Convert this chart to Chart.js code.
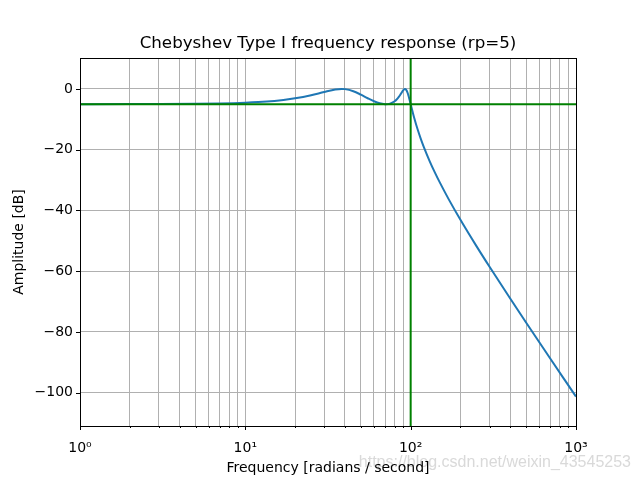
<!DOCTYPE html>
<html>
<head>
<meta charset="utf-8">
<script src="https://cdn.jsdelivr.net/npm/chart.js@4.4.1/dist/chart.umd.min.js"></script>
<style>
  html, body { margin: 0; padding: 0; background: #ffffff; }
  #wrap { width: 640px; height: 480px; position: relative; }
</style>
</head>
<body>
<div id="wrap"><canvas id="c" width="640" height="480"></canvas></div>
<script>
// Frequency (rad/s) and amplitude (dB)
const freqs = [1, 2, 3, 5, 7, 10, 12, 15, 17, 20, 25, 30, 35, 38.27, 40, 45, 50, 55, 60, 65, 70, 70.71, 75, 80, 82, 85, 86.5, 88, 90, 91, 92.39, 93, 94, 95, 96, 97, 98, 99, 100, 101, 102, 103, 105, 110, 115, 120, 130, 140, 150, 170, 200, 250, 300, 400, 500, 700, 850, 1000];
const amplitudeDb = [-4.995, -4.981, -4.957, -4.881, -4.767, -4.523, -4.312, -3.924, -3.618, -3.092, -2.069, -0.994, -0.180, 0, -0.053, -0.735, -1.877, -3.061, -4.044, -4.712, -4.995, -5, -4.813, -4.044, -3.534, -2.525, -1.920, -1.277, -0.475, -0.177, 0, -0.040, -0.285, -0.754, -1.415, -2.218, -3.111, -4.049, -5, -5.944, -6.867, -7.764, -9.464, -13.199, -16.344, -19.065, -23.649, -27.468, -30.774, -36.356, -43.085, -51.765, -58.573, -69.020, -76.976, -88.840, -95.644, -101.324];

// Reference lines
const cutoffFreq = [100];
const rippleDb = [-5];

// Axis ticks
const xTickValues = [1, 2, 3, 4, 5, 6, 7, 8, 9, 10, 20, 30, 40, 50, 60, 70, 80, 90, 100, 200, 300, 400, 500, 600, 700, 800, 900, 1000];
const xTickLabels = { 1: '10\u2070', 10: '10\u00b9', 100: '10\u00b2', 1000: '10\u00b3' };
const yTickValues = [-100, -80, -60, -40, -20, 0];
const xRange = [1, 1000];
const yRange = [-111.0, 10.2];

const titleText = 'Chebyshev Type I frequency response (rp=5)';
const xLabel = 'Frequency [radians / second]';
const yLabel = 'Amplitude [dB]';
const watermark = 'https://blog.csdn.net/weixin_43545253';

const FONT = '"DejaVu Sans", sans-serif';

const curve = freqs.map((f, i) => ({ x: f, y: amplitudeDb[i] }));
const hLine = [{ x: xRange[0], y: rippleDb[0] }, { x: xRange[1], y: rippleDb[0] }];
const vLine = [{ x: cutoffFreq[0], y: yRange[0] }, { x: cutoffFreq[0], y: yRange[1] }];

const isMajor = v => Math.abs(Math.log10(v) - Math.round(Math.log10(v))) < 1e-9;

const decor = {
  id: 'decor',
  beforeDraw(chart) {
    const ctx = chart.ctx;
    ctx.save();
    ctx.fillStyle = '#ffffff';
    ctx.fillRect(0, 0, chart.width, chart.height);
    ctx.font = '16px "Liberation Sans", Arial, sans-serif';
    ctx.fillStyle = 'rgba(215,215,215,0.95)';
    ctx.textAlign = 'right';
    ctx.textBaseline = 'alphabetic';
    ctx.fillText(watermark, 631, 467);
    ctx.restore();
  },
  afterDraw(chart) {
    const ctx = chart.ctx;
    const a = chart.chartArea;
    const xs = chart.scales.x, ys = chart.scales.y;
    ctx.save();
    ctx.strokeStyle = '#000000';
    ctx.lineWidth = 1;
    ctx.strokeRect(Math.round(a.left) + 0.5, Math.round(a.top) + 0.5, Math.round(a.right - a.left), Math.round(a.bottom - a.top));
    ctx.beginPath();
    xTickValues.forEach(v => {
      const px = Math.round(xs.getPixelForValue(v)) + 0.5;
      const len = isMajor(v) ? 4 : 2;
      ctx.moveTo(px, Math.round(a.bottom));
      ctx.lineTo(px, Math.round(a.bottom) + len);
    });
    yTickValues.forEach(v => {
      const py = Math.round(ys.getPixelForValue(v)) + 0.5;
      ctx.moveTo(Math.round(a.left) - 4, py);
      ctx.lineTo(Math.round(a.left), py);
    });
    ctx.stroke();
    ctx.fillStyle = '#000000';
    ctx.font = '16.7px ' + FONT;
    ctx.textAlign = 'center';
    ctx.textBaseline = 'alphabetic';
    ctx.fillText(titleText, (a.left + a.right) / 2, 48);
    ctx.restore();
  }
};

new Chart(document.getElementById('c'), {
  type: 'line',
  data: {
    datasets: [
      { data: curve, borderColor: '#1f77b4', borderWidth: 2, pointRadius: 0, fill: false, cubicInterpolationMode: 'monotone', order: 2 },
      { data: hLine, borderColor: '#008000', borderWidth: 2, pointRadius: 0, fill: false, order: 1 },
      { data: vLine, borderColor: '#008000', borderWidth: 2, pointRadius: 0, fill: false, order: 1 }
    ]
  },
  options: {
    responsive: false,
    animation: false,
    devicePixelRatio: 1,
    layout: { padding: { top: 58, right: 64, left: 0, bottom: 0 } },
    plugins: { legend: { display: false }, title: { display: false }, tooltip: { enabled: false } },
    scales: {
      x: {
        type: 'logarithmic',
        min: xRange[0], max: xRange[1],
        afterBuildTicks: s => { s.ticks = xTickValues.map(v => ({ value: v, major: isMajor(v) })); },
        afterFit: s => { s.height = 54; },
        ticks: {
          autoSkip: false, maxRotation: 0, minRotation: 0, padding: 14,
          color: '#000000', font: { family: FONT, size: 14 },
          callback: v => xTickLabels[v] || ''
        },
        grid: { color: '#b0b0b0', lineWidth: 1, drawTicks: false },
        border: { display: true, color: '#000000', width: 1 },
        title: { display: true, text: xLabel, color: '#000000', font: { family: FONT, size: 14 }, padding: { top: 0, bottom: 3 } }
      },
      y: {
        type: 'linear',
        min: yRange[0], max: yRange[1],
        afterBuildTicks: s => { s.ticks = yTickValues.map(v => ({ value: v })); },
        afterFit: s => { s.width = 80; },
        ticks: {
          padding: 7, color: '#000000', font: { family: FONT, size: 14 },
          callback: v => (v < 0 ? '\u2212' + Math.abs(v) : String(v))
        },
        grid: { color: '#b0b0b0', lineWidth: 1, drawTicks: false },
        border: { display: true, color: '#000000', width: 1 },
        title: { display: true, text: yLabel, color: '#000000', font: { family: FONT, size: 14 }, padding: { top: 11, bottom: 0 } }
      }
    }
  },
  plugins: [decor]
});
</script>
</body>
</html>
